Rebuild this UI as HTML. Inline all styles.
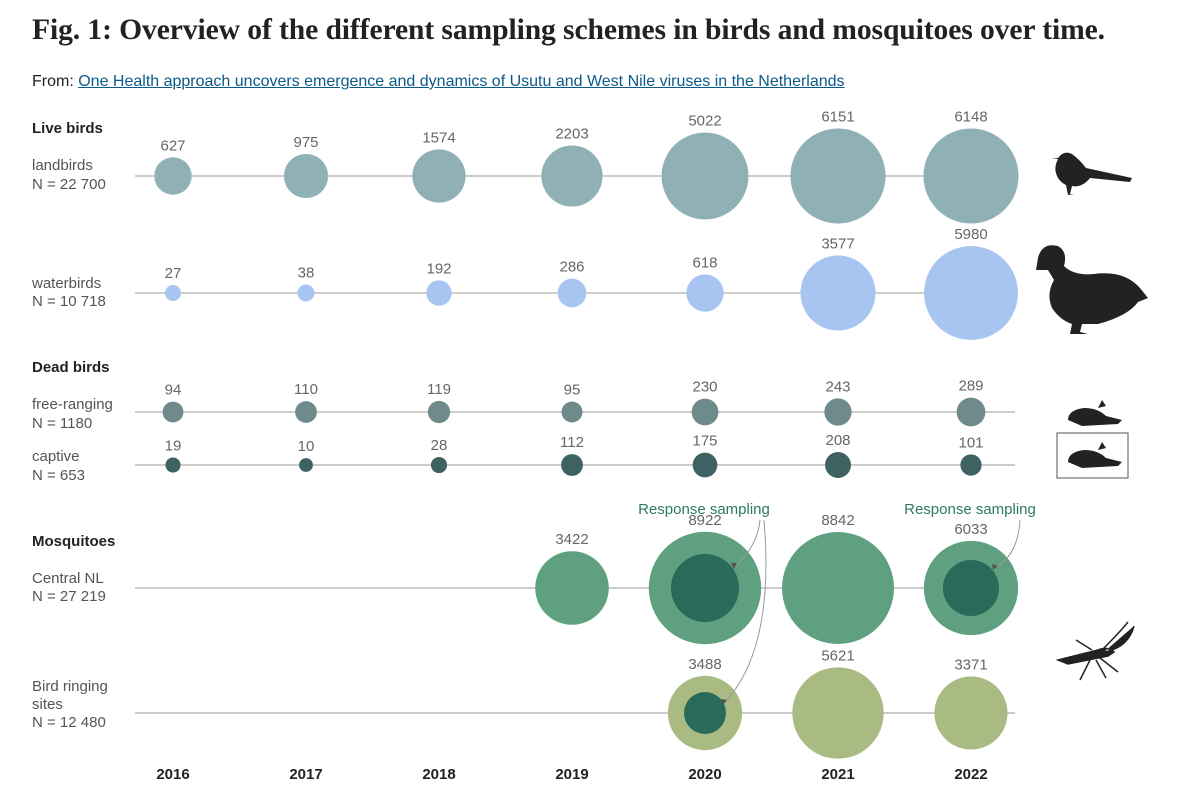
<!DOCTYPE html>
<html><head><meta charset="utf-8"><style>
body{margin:0;background:#fff;width:1200px;height:806px;overflow:hidden;font-family:"Liberation Sans",sans-serif}
.t{position:absolute;left:32px;top:14px;font-family:"Liberation Serif",serif;font-weight:bold;font-size:29.6px;color:#222;letter-spacing:-0.1px}
.f{position:absolute;left:32px;top:73px;font-family:"Liberation Sans",sans-serif;font-size:16px;color:#222}
.f a{color:#0a5a8a;text-decoration:underline}
</style></head><body>
<div class="t">Fig. 1: Overview of the different sampling schemes in birds and mosquitoes over time.</div>
<div class="f">From: <a>One Health approach uncovers emergence and dynamics of Usutu and West Nile viruses in the Netherlands</a></div>
<svg id="c" width="1200" height="806" style="position:absolute;left:0;top:0"></svg>
<script>
const years=[2016,2017,2018,2019,2020,2021,2022];
const landbirds=[627,975,1574,2203,5022,6151,6148];
const waterbirds=[27,38,192,286,618,3577,5980];
const freeRanging=[94,110,119,95,230,243,289];
const captive=[19,10,28,112,175,208,101];
const centralNL=[null,null,null,3422,8922,8842,6033];
const birdRinging=[null,null,null,null,3488,5621,3371];
const centralResponse=[null,null,null,null,2845,null,1783];
const ringingResponse=[null,null,null,null,856,null,null];
const NS="http://www.w3.org/2000/svg";
const svg=document.getElementById('c');
function x(i){return 173+i*133;}
function r(v){return 5.2+0.54*Math.sqrt(v);}
function el(t,a,txt){const e=document.createElementNS(NS,t);for(const k in a)e.setAttribute(k,a[k]);if(txt!=null)e.textContent=txt;svg.appendChild(e);return e;}
function label(txt,lx,ly,opt){const e=el('text',Object.assign({x:lx,y:ly,'font-size':15,fill:'#444','font-family':'Liberation Sans, sans-serif'},opt||{}),txt);return e;}
const rows=[
 {name:'landbirds',vals:landbirds,y:176,col:'#8fb0b4'},
 {name:'waterbirds',vals:waterbirds,y:293,col:'#a7c5f0'},
 {name:'free-ranging',vals:freeRanging,y:412,col:'#6e8a8a'},
 {name:'captive',vals:captive,y:465,col:'#3e6262'},
 {name:'central-nl',vals:centralNL,y:588,col:'#5fa080'},
 {name:'bird-ringing',vals:birdRinging,y:713,col:'#a9bb82'}];
rows.forEach(rw=>{
 const ln=el('line',{x1:135,x2:1015,y1:rw.y,y2:rw.y,stroke:'#bbb','stroke-width':1.5});
 
 
 rw.vals.forEach((v,i)=>{
  if(v==null)return;
  const c=el('circle',{cx:x(i),cy:rw.y,r:r(v),fill:rw.col});
  
  
  const t=label(String(v),x(i),rw.y-r(v)-7,{'text-anchor':'middle',fill:'#666'});
  
  
 });
});
[[centralResponse,588],[ringingResponse,713]].forEach(([arr,cy])=>{
 arr.forEach((v,i)=>{if(v==null)return;
  const c=el('circle',{cx:x(i),cy:cy,r:r(v),fill:'#2a6a58'});
  
  
 });
});
years.forEach((y,i)=>{
 const t=label(String(y),x(i),779,{'text-anchor':'middle','font-weight':'bold',fill:'#222'});
 
 
});
const left=[['Live birds',133,true],['landbirds',170],['N = 22 700',189],['waterbirds',288],['N = 10 718',306],['Dead birds',372,true],['free-ranging',409],['N = 1180',428],['captive',461],['N = 653',480],['Mosquitoes',546,true],['Central NL',583],['N = 27 219',601],['Bird ringing',691],['sites',709],['N = 12 480',727]];
left.forEach(l=>{const t=label(l[0],32,l[1],l[2]?{'font-weight':'bold',fill:'#222'}:{fill:'#555'});
 
 });
const a1=label('Response sampling',704,514,{'text-anchor':'middle',fill:'#2e7a60'});


const a2=label('Response sampling',970,514,{'text-anchor':'middle',fill:'#2e7a60'});


el('path',{d:'M760 520 Q758 545 735 567',fill:'none',stroke:'#999','stroke-width':1});
el('path',{d:'M764 520 Q775 650 724 703',fill:'none',stroke:'#999','stroke-width':1});
el('path',{d:'M1020 520 Q1018 555 995 568',fill:'none',stroke:'#999','stroke-width':1});
el('path',{d:'M731 563 l6 0 l-3 6z M721 699 l6 1 l-4 5z M992 564 l6 2 l-5 4z',fill:'#555'});
el('path',{d:'M1058 158 q6-8 14-4 q8 6 14 14 l46 10 l-2 4 l-40-4 q-8 10-18 8 l-2 8 l4 0 -6 1 -2-10 q-8-4-10-12 q-2-6 2-14 l-6 0z',fill:'#222'});
el('path',{d:'M1038 258 q4-16 20-12 q10 6 6 20 q10 10 30 8 q30-4 46 14 l8 10 -10 4 q-10 14-40 22 l-16 0 -2 8 8 2 -18 0 2-10 q-12-4-20-16 q-6-14 2-28 l-6-10 -12 0z',fill:'#222'});
el('path',{d:'M1068 420 q0-10 16-12 q14 0 22 8 l16 4 -4 4 -36 2z M1098 408 l4-8 4 6z',fill:'#222'});
el('rect',{x:1057,y:433,width:71,height:45,fill:'none',stroke:'#555','stroke-width':1});
el('path',{d:'M1068 462 q0-10 16-12 q14 0 22 8 l16 4 -4 4 -36 2z M1098 450 l4-8 4 6z',fill:'#222'});
el('path',{d:'M1058 660 l40-10 q10-4 16 2 l-6 4 -40 8z M1100 652 q20-20 28-30 M1104 652 q24-4 30-26 M1090 660 l-10 20 M1096 660 l10 18 M1100 658 l18 14 M1092 650 l-16-10',fill:'#222',stroke:'#222','stroke-width':1.5});
</script>
</body></html>
